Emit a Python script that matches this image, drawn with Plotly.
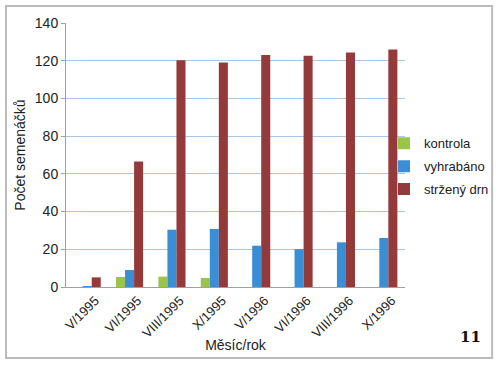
import plotly.graph_objects as go

categories = ["V/1995", "VI/1995", "VIII/1995", "X/1995", "V/1996", "VI/1996", "VIII/1996", "X/1996"]
kontrola = [0, 5.3, 5.5, 4.8, 0, 0, 0, 0]
vyhrabano = [0.3, 9, 30.4, 30.8, 21.9, 20.1, 23.7, 26]
strzeny_drn = [5.1, 66.6, 120.2, 119.1, 123, 122.6, 124.4, 126]

fig = go.Figure()
fig.add_bar(x=categories, y=kontrola, name="kontrola", marker_color="#9BC44B",
            marker_line_width=0, legendgroup="a")
fig.add_bar(x=categories, y=vyhrabano, name="vyhrabáno", marker_color="#3A8ED6",
            marker_line_width=0, legendgroup="b")
fig.add_bar(x=categories, y=strzeny_drn, name="stržený drn", marker_color="#953A3A",
            marker_line_width=0, legendgroup="c")

font = "Liberation Sans, Arial, sans-serif"
fig.update_layout(
    width=500, height=368, autosize=False,
    margin=dict(l=66, r=95, t=23, b=81, autoexpand=False),
    paper_bgcolor="white", plot_bgcolor="white",
    barmode="group", bargap=0.36, bargroupgap=0,
    font=dict(family=font, size=13, color="#222"),
    legend=dict(xref="container", yref="container", x=0.768, xanchor="left",
                y=0.548, yanchor="middle", traceorder="grouped",
                font=dict(size=13), itemwidth=30, tracegroupgap=3,
                bgcolor="rgba(0,0,0,0)"),
    showlegend=True,
)
fig.update_xaxes(
    tickangle=-45, showline=True, linecolor="#A0A0A0", linewidth=1,
    ticks="", showgrid=False, automargin=False, ticklabelshift=8,
    title=dict(text="Měsíc/rok", font=dict(size=14), standoff=0),
    tickfont=dict(size=13),
)
fig.update_yaxes(
    range=[0, 140], dtick=20, showline=True, linecolor="#A0A0A0", linewidth=1,
    showgrid=True, gridcolor="#A9C8E8", gridwidth=1, zeroline=False,
    ticks="outside", ticklen=4, tickcolor="#A0A0A0", automargin=False,
    title=dict(text="Počet semenáčků", font=dict(size=14), standoff=5),
    tickfont=dict(size=14),
)
fig.add_shape(type="rect", xref="paper", yref="paper",
              x0=-0.177, x1=1.257, y0=-0.269, y1=1.064,
              line=dict(color="#BBBBBB", width=2), fillcolor="rgba(0,0,0,0)",
              layer="above")
fig.add_annotation(text="<b>11</b>", xref="paper", yref="paper",
                   x=1.192, y=-0.188, xanchor="center", yanchor="middle",
                   showarrow=False,
                   font=dict(family="DejaVu Serif, serif", size=15, color="#111"))

fig.write_html("out.html", config={"displayModeBar": False},
               post_script="document.body.style.margin='0';")
